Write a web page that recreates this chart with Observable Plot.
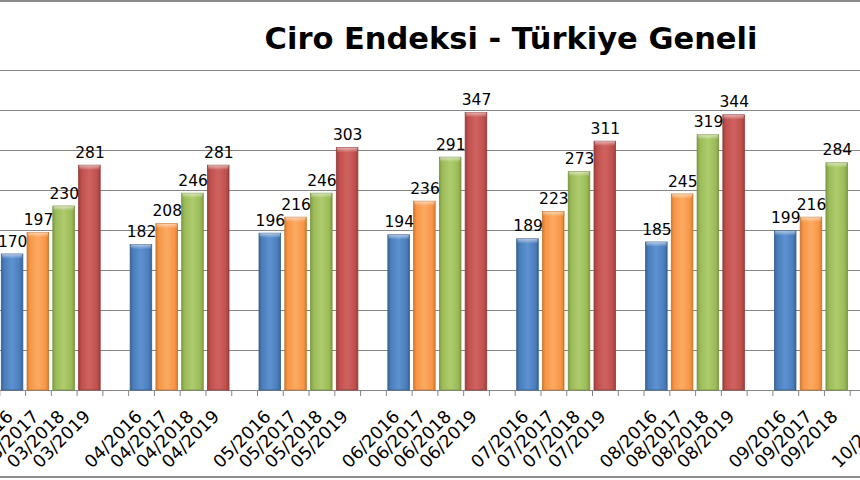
<!DOCTYPE html>
<html>
<head>
<meta charset="utf-8">
<script src="https://cdn.jsdelivr.net/npm/d3@7"></script>
<script src="https://cdn.jsdelivr.net/npm/@observablehq/plot@0.6"></script>
<style>
html,body{margin:0;padding:0;background:#fff;overflow:hidden}
#wrap{position:relative;width:860px;height:480px;overflow:hidden;font-family:"DejaVu Sans",Verdana,sans-serif;background:#fff}
#chart{position:absolute;left:0;top:0}
#title{position:absolute;left:511px;top:24px;transform:translateX(-50%);font-weight:bold;font-size:30.5px;line-height:30px;white-space:nowrap;color:#000}
.bline{position:absolute;left:0;width:860px;height:2px;background:#8c8c8c}
</style>
</head>
<body>
<div id="wrap">
  <div id="chart"></div>
  <div id="title">Ciro Endeksi - Türkiye Geneli</div>
  <div class="bline" style="top:0px"></div>
  <div class="bline" style="top:476px"></div>
</div>
<script>
// ---- data ----
const months = ["03", "04", "05", "06", "07", "08", "09"];
const years = ["2016", "2017", "2018", "2019"];
const v2016 = [170, 182, 196, 194, 189, 185, 199];
const v2017 = [197, 208, 216, 236, 223, 245, 216];
const v2018 = [230, 246, 246, 291, 273, 319, 284];
const v2019 = [281, 281, 303, 347, 311, 344, null];
const trailingLabels = ["10/2016"];
const yTicks = [0, 50, 100, 150, 200, 250, 300, 350, 400];

const seriesValues = {"2016": v2016, "2017": v2017, "2018": v2018, "2019": v2019};
const palette = {
  "2016": {dark: "#3a6399", base: "#4a7ebb", light: "#5d91d0", stroke: "#35608f"},
  "2017": {dark: "#d97a2a", base: "#f79646", light: "#fbaa62", stroke: "#c4762f"},
  "2018": {dark: "#7f9e40", base: "#9bbb59", light: "#afcc6c", stroke: "#78923f"},
  "2019": {dark: "#9d3d3a", base: "#c0504d", light: "#cf625f", stroke: "#943c3a"}
};

// rows + category domain (each month group followed by an empty slot)
const rows = [];
const domain = [];
months.forEach((m, i) => {
  years.forEach(y => {
    const v = seriesValues[y][i];
    if (v != null) {
      const key = `${m}/${y}`;
      rows.push({key, year: y, value: v});
      domain.push(key);
    }
  });
  domain.push(`gap${i}`);
});
trailingLabels.forEach(k => domain.push(k));

const step = 25.77;
const x0 = -0.7;
const isGap = k => k.startsWith("gap");

const marks = [
  Plot.ruleY(yTicks, {stroke: "#868686", strokeWidth: 1})
];
years.forEach(y => {
  marks.push(Plot.barY(rows.filter(r => r.year === y), {
    x: "key", y: "value", fill: `url(#g${y})`,
    stroke: palette[y].stroke, strokeWidth: 0.8,
    insetLeft: 2, insetRight: 2.2
  }));
});
marks.push(Plot.barY(rows, {
  x: "key", y1: d => d.value, y2: d => d.value - 6,
  fill: "url(#cap)", insetLeft: 2.6, insetRight: 2.8
}));
marks.push(Plot.text(rows, {
  x: "key", y: "value", text: d => String(d.value),
  dy: -8, lineAnchor: "bottom", fontSize: 15.5, fill: "#000"
}));
marks.push(Plot.ruleX(domain, {
  x: d => d, dx: -step / 2, y1: 0, y2: -7.5, stroke: "#868686"
}));
marks.push(Plot.text(domain.filter(k => !isGap(k)), {
  x: d => d, frameAnchor: "bottom", text: d => d,
  rotate: -45, textAnchor: "end", lineAnchor: "bottom",
  dy: 27, dx: 1.5, fontSize: 17.5, fill: "#000"
}));

const svg = Plot.plot({
  width: 860,
  height: 480,
  marginTop: 70,
  marginBottom: 90,
  marginLeft: 0,
  marginRight: 0,
  style: {fontFamily: "'DejaVu Sans', Verdana, sans-serif", background: "transparent", overflow: "visible"},
  x: {type: "band", domain, range: [x0, x0 + domain.length * step], padding: 0, round: false, axis: null},
  y: {domain: [0, 400], axis: null},
  marks
});

// gradients for the bevelled bar look
const defs = d3.select(svg).insert("defs", ":first-child");
years.forEach(y => {
  const p = palette[y];
  const g = defs.append("linearGradient").attr("id", `g${y}`)
    .attr("x1", "0").attr("x2", "1").attr("y1", "0").attr("y2", "0");
  [[0, p.dark], [0.14, p.base], [0.5, p.light], [0.86, p.base], [1, p.dark]].forEach(([o, c]) => {
    g.append("stop").attr("offset", o).attr("stop-color", c);
  });
});
const cap = defs.append("linearGradient").attr("id", "cap")
  .attr("x1", "0").attr("x2", "0").attr("y1", "0").attr("y2", "1");
cap.append("stop").attr("offset", 0).attr("stop-color", "#fff").attr("stop-opacity", 0.55);
cap.append("stop").attr("offset", 1).attr("stop-color", "#fff").attr("stop-opacity", 0);

document.getElementById("chart").appendChild(svg);
</script>
</body>
</html>
